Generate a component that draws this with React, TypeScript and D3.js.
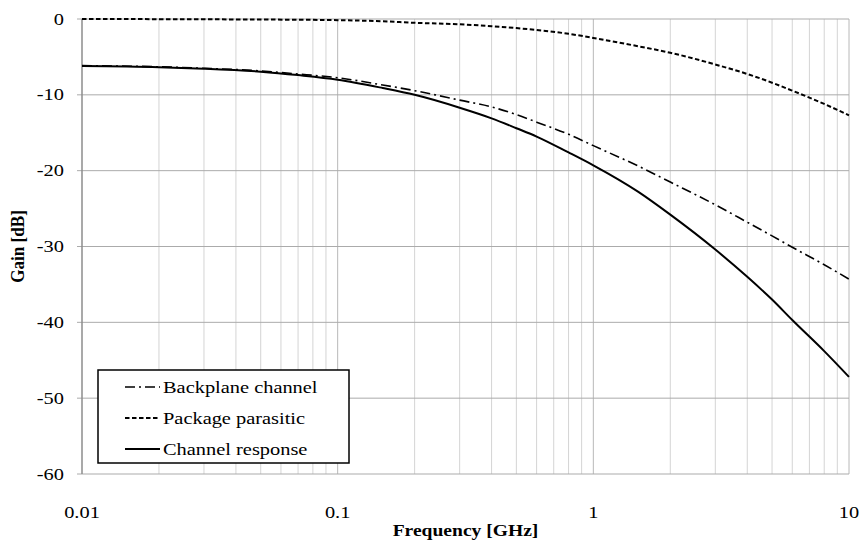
import React, { useEffect, useRef } from "react";
import * as d3 from "d3";

const freqs = [0.01, 0.02, 0.03, 0.05, 0.07, 0.1, 0.15, 0.2, 0.3, 0.4, 0.5, 0.6, 0.8, 1, 1.5, 2, 3, 4, 5, 6, 8, 10];
const backplane = [-6.15, -6.3, -6.5, -6.85, -7.25, -7.75, -8.7, -9.45, -10.7, -11.6, -12.6, -13.6, -15.2, -16.7, -19.4, -21.5, -24.5, -26.8, -28.6, -30.1, -32.4, -34.3];
const packageParasitic = [0, -0.02, -0.04, -0.07, -0.1, -0.15, -0.3, -0.5, -0.7, -0.95, -1.2, -1.45, -1.95, -2.5, -3.6, -4.45, -6.0, -7.25, -8.4, -9.45, -11.2, -12.7];
const channelResponse = [-6.2, -6.35, -6.55, -6.95, -7.4, -8.0, -9.1, -10.0, -11.7, -13.1, -14.4, -15.5, -17.6, -19.3, -22.8, -25.8, -30.4, -34.0, -37.0, -39.7, -43.8, -47.2];
const yTicks = [0, -10, -20, -30, -40, -50, -60];
const xTicks = [0.01, 0.1, 1, 10];

const series = [
  { name: "Backplane channel", values: backplane, dash: "10,4,2,4", width: 1.6 },
  { name: "Package parasitic", values: packageParasitic, dash: "4.5,2.5", width: 2 },
  { name: "Channel response", values: channelResponse, dash: null, width: 2 },
];

export default function App() {
  const svgRef = useRef<SVGSVGElement>(null);

  useEffect(() => {
    const svg = d3.select(svgRef.current);
    svg.selectAll("*").remove();

    const width = 861;
    const height = 543;
    const margin = { top: 19, right: 12, bottom: 69, left: 82 };
    const innerW = width - margin.left - margin.right;
    const innerH = height - margin.top - margin.bottom;
    const font = "Liberation Serif, Times New Roman, serif";
    const fs = 17;
    const sx = 1.2; // text in the source is stretched horizontally

    const x = d3.scaleLog().domain([0.01, 10]).range([0, innerW]);
    const y = d3.scaleLinear().domain([-60, 0]).range([innerH, 0]);

    const g = svg.append("g").attr("transform", `translate(${margin.left},${margin.top})`);

    // vertical grid: minor then decades
    const minor: number[] = [];
    [0.01, 0.1, 1].forEach((d) => {
      for (let k = 2; k <= 9; k++) minor.push(d * k);
    });
    g.selectAll(".vminor")
      .data(minor)
      .join("line")
      .attr("x1", (d) => x(d))
      .attr("x2", (d) => x(d))
      .attr("y1", 0)
      .attr("y2", innerH)
      .attr("stroke", "#d4d4d4")
      .attr("stroke-width", 1);
    g.selectAll(".vmajor")
      .data(xTicks.slice(1))
      .join("line")
      .attr("x1", (d) => x(d))
      .attr("x2", (d) => x(d))
      .attr("y1", 0)
      .attr("y2", innerH)
      .attr("stroke", "#b8b8b8")
      .attr("stroke-width", 1);

    // horizontal grid + ticks
    g.selectAll(".hgrid")
      .data(yTicks)
      .join("line")
      .attr("x1", -5)
      .attr("x2", innerW)
      .attr("y1", (d) => y(d))
      .attr("y2", (d) => y(d))
      .attr("stroke", "#ababab")
      .attr("stroke-width", 1);

    // left axis
    g.append("line")
      .attr("x1", 0)
      .attr("x2", 0)
      .attr("y1", 0)
      .attr("y2", innerH)
      .attr("stroke", "#8c8c8c")
      .attr("stroke-width", 1.5);

    g.selectAll(".ylab")
      .data(yTicks)
      .join("text")
      .attr("transform", (d) => `translate(-18,${y(d) + 5.5}) scale(${sx},1)`)
      .attr("text-anchor", "end")
      .attr("font-family", font)
      .attr("font-size", fs)
      .text((d) => String(d));

    g.selectAll(".xlab")
      .data(xTicks)
      .join("text")
      .attr("transform", (d) => `translate(${x(d)},${innerH + 44}) scale(${sx},1)`)
      .attr("text-anchor", "middle")
      .attr("font-family", font)
      .attr("font-size", fs)
      .text((d) => String(d));

    // lines
    const line = d3
      .line<number>()
      .x((_, i) => x(freqs[i]))
      .y((d) => y(d))
      .curve(d3.curveMonotoneX);

    series.forEach((s) => {
      g.append("path")
        .datum(s.values)
        .attr("d", line)
        .attr("fill", "none")
        .attr("stroke", "#000")
        .attr("stroke-width", s.width)
        .attr("stroke-dasharray", s.dash ?? null);
    });

    // legend
    const lg = svg.append("g").attr("transform", "translate(98,370)");
    lg.append("rect")
      .attr("width", 251)
      .attr("height", 93)
      .attr("fill", "#fff")
      .attr("stroke", "#000")
      .attr("stroke-width", 1.5);
    series.forEach((s, i) => {
      const ly = 17 + i * 31;
      lg.append("line")
        .attr("x1", 27)
        .attr("x2", 62)
        .attr("y1", ly)
        .attr("y2", ly)
        .attr("stroke", "#000")
        .attr("stroke-width", s.width)
        .attr("stroke-dasharray", s.dash ?? null);
      lg.append("text")
        .attr("transform", `translate(65,${ly + 6}) scale(${sx},1)`)
        .attr("font-family", font)
        .attr("font-size", fs)
        .text(s.name);
    });

    // axis titles
    svg.append("text")
      .attr("transform", `translate(${margin.left + innerW / 2},536) scale(${sx},1)`)
      .attr("text-anchor", "middle")
      .attr("font-family", font)
      .attr("font-weight", "bold")
      .attr("font-size", 16.3)
      .text("Frequency [GHz]");
    svg.append("text")
      .attr("transform", `translate(24,${margin.top + innerH / 2}) rotate(-90) scale(1.05,${sx})`)
      .attr("text-anchor", "middle")
      .attr("font-family", font)
      .attr("font-weight", "bold")
      .attr("font-size", 16.3)
      .text("Gain [dB]");
  }, []);

  return (
    <svg
      ref={svgRef}
      width={861}
      height={543}
      style={{ position: "absolute", left: 0, top: 0, background: "#fff" }}
    />
  );
}
